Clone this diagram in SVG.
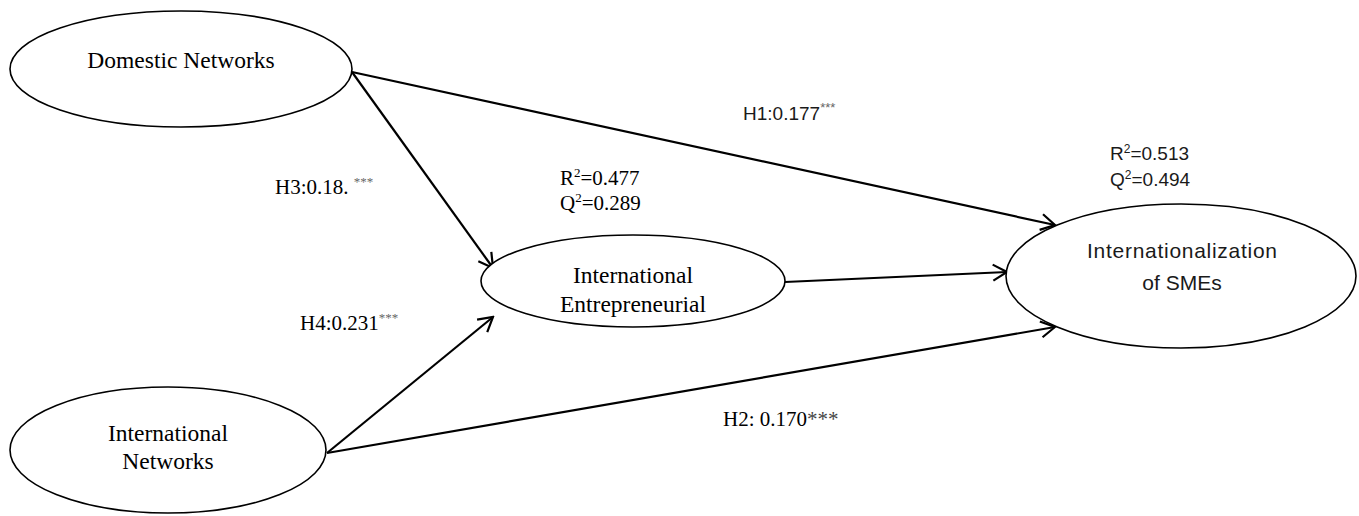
<svg xmlns="http://www.w3.org/2000/svg" width="1359" height="516" viewBox="0 0 1359 516">
<defs>
<style>
.node{fill:#fff;stroke:#000;stroke-width:1.6}
.serif{font-family:"Liberation Serif","Times New Roman",serif;fill:#000}
.sans{font-family:"Liberation Sans",Arial,sans-serif;fill:#1a1a1a}
.lbl{font-size:21px}
.nl{font-size:23.5px}
.star{fill:#666}
.edge{stroke:#000;stroke-width:2.2;fill:none;marker-end:url(#arr)}
</style>
<marker id="arr" markerUnits="userSpaceOnUse" viewBox="-16 -10 18 20" markerWidth="18" markerHeight="20" refX="0" refY="0" orient="auto">
<path d="M-14,-8 L0,0 L-14,8" fill="none" stroke="#000" stroke-width="2.2"/>
</marker>
</defs>
<g id="connectors">
<line class="edge" x1="352" y1="72" x2="1055" y2="225"/>
<line class="edge" x1="352" y1="72" x2="493" y2="268"/>
<line class="edge" x1="327" y1="453" x2="493" y2="317"/>
<line class="edge" x1="327" y1="453" x2="1055" y2="327"/>
<line class="edge" x1="785" y1="282" x2="1007" y2="272"/>
</g>
<g id="domestic">
<ellipse class="node" cx="181" cy="69" rx="171" ry="58"/>
<text class="serif nl" x="181" y="68" text-anchor="middle">Domestic Networks</text>
</g>
<g id="international-networks">
<ellipse class="node" cx="168" cy="450" rx="158" ry="63"/>
<text class="serif nl" x="168" y="441" text-anchor="middle">International</text>
<text class="serif nl" x="168" y="469" text-anchor="middle">Networks</text>
</g>
<g id="international-entrepreneurial">
<ellipse class="node" cx="633" cy="281" rx="152" ry="46"/>
<text class="serif nl" x="633" y="283" text-anchor="middle">International</text>
<text class="serif nl" x="633" y="312" text-anchor="middle">Entrepreneurial</text>
</g>
<g id="internationalization">
<ellipse class="node" cx="1181" cy="276" rx="175" ry="72"/>
<text class="sans" font-size="21" x="1182" y="258" text-anchor="middle" textLength="190" lengthAdjust="spacing">Internationalization</text>
<text class="sans" font-size="21" x="1182" y="290" text-anchor="middle">of SMEs</text>
</g>
<g id="labels">
<text class="sans" font-size="19" x="743" y="120">H1:0.177<tspan class="star" font-size="13" dy="-8">***</tspan></text>
<text class="serif lbl" x="275" y="194">H3:0.18. <tspan class="star" font-size="13" dy="-8">***</tspan></text>
<text class="serif lbl" x="300" y="330">H4:0.231<tspan class="star" font-size="13" dy="-8">***</tspan></text>
<text class="serif lbl" x="723" y="426">H2: 0.170<tspan fill="#444">***</tspan></text>
<text class="serif lbl" x="560" y="185">R<tspan font-size="13" dy="-8">2</tspan><tspan dy="8">=0.477</tspan></text>
<text class="serif lbl" x="560" y="210">Q<tspan font-size="13" dy="-8">2</tspan><tspan dy="8">=0.289</tspan></text>
<text class="sans" font-size="19" x="1110" y="160">R<tspan font-size="12" dy="-7">2</tspan><tspan dy="7">=0.513</tspan></text>
<text class="sans" font-size="19" x="1110" y="186">Q<tspan font-size="12" dy="-7">2</tspan><tspan dy="7">=0.494</tspan></text>
</g>
</svg>
